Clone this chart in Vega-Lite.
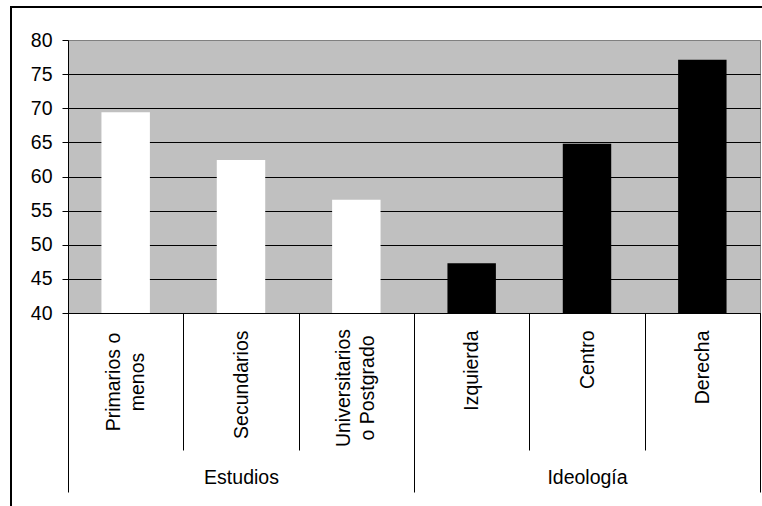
{
  "$schema": "https://vega.github.io/schema/vega-lite/v6.json",
  "width": 692,
  "height": 273,
  "autosize": {"type": "none"},
  "padding": {"left": 68, "top": 40, "right": 2, "bottom": 193},
  "background": "#ffffff",
  "config": {
    "view": {"fill": "#c0c0c0", "stroke": "#808080", "strokeWidth": 1},
    "font": "Liberation Sans",
    "axis": {
      "labelFont": "Liberation Sans",
      "labelFontSize": 19.5,
      "labelColor": "#000000",
      "domainColor": "#000000",
      "domainWidth": 1,
      "tickColor": "#000000",
      "tickWidth": 1
    }
  },
  "datasets": {
    "barras": [
      {"grupo": "Estudios", "categoria": "Primarios o menos", "valor": 69.4},
      {"grupo": "Estudios", "categoria": "Secundarios", "valor": 62.4},
      {"grupo": "Estudios", "categoria": "Universitarios o Postgrado", "valor": 56.6},
      {"grupo": "Ideología", "categoria": "Izquierda", "valor": 47.3},
      {"grupo": "Ideología", "categoria": "Centro", "valor": 64.8},
      {"grupo": "Ideología", "categoria": "Derecha", "valor": 77.1}
    ]
  },
  "layer": [
    {
      "data": {"values": [{}]},
      "mark": {"type": "rect", "filled": false, "stroke": "#000000", "strokeWidth": 2},
      "encoding": {
        "x": {"datum": 0, "type": "quantitative", "scale": {"domain": [0, 1], "range": [-57, 740], "nice": false, "zero": false}, "axis": null},
        "x2": {"datum": 1},
        "y": {"datum": 0, "type": "quantitative", "scale": {"domain": [0, 1], "range": [-33, 520], "nice": false, "zero": false}, "axis": null},
        "y2": {"datum": 1}
      }
    },
    {
      "data": {"name": "barras"},
      "mark": {"type": "bar", "width": {"band": 0.42}},
      "encoding": {
        "x": {
          "field": "categoria",
          "type": "nominal",
          "sort": null,
          "scale": {"type": "band", "paddingInner": 0, "paddingOuter": 0},
          "axis": {
            "orient": "bottom",
            "title": null,
            "tickBand": "extent",
            "tickSize": 137,
            "labelAngle": 270,
            "labelBaseline": "middle",
            "labelAlign": {
              "condition": {"test": "datum.value === 'Primarios o menos' || datum.value === 'Universitarios o Postgrado'", "value": "center"},
              "value": "right"
            },
            "labelPadding": {
              "condition": [
                {"test": "datum.value === 'Primarios o menos'", "value": -68.5},
                {"test": "datum.value === 'Universitarios o Postgrado'", "value": -62.5}
              ],
              "value": -120
            },
            "labelOffset": {
              "condition": {"test": "datum.value === 'Primarios o menos' || datum.value === 'Universitarios o Postgrado'", "value": -12.5},
              "value": 0
            },
            "labelExpr": "datum.value === 'Primarios o menos' ? ['Primarios o', 'menos'] : datum.value === 'Universitarios o Postgrado' ? ['Universitarios', 'o Postgrado'] : datum.value",
            "labelLineHeight": 24,
            "labelOverlap": false,
            "labelLimit": 0
          }
        },
        "y": {
          "field": "valor",
          "type": "quantitative",
          "scale": {"domain": [40, 80], "nice": false, "zero": false},
          "axis": {
            "orient": "left",
            "title": null,
            "values": [40, 45, 50, 55, 60, 65, 70, 75, 80],
            "tickSize": 6,
            "labelPadding": 10,
            "grid": true,
            "gridWidth": 1,
            "gridColor": {"condition": {"test": "datum.value === 80", "value": "#808080"}, "value": "#000000"}
          }
        },
        "y2": {"datum": 40},
        "color": {
          "field": "grupo",
          "type": "nominal",
          "scale": {"domain": ["Estudios", "Ideología"], "range": ["#ffffff", "#000000"]},
          "legend": null
        }
      }
    },
    {
      "data": {"name": "barras"},
      "mark": {"type": "rule", "strokeOpacity": 0},
      "encoding": {
        "x": {
          "field": "grupo",
          "type": "nominal",
          "sort": null,
          "scale": {"type": "band", "paddingInner": 0, "paddingOuter": 0},
          "axis": {
            "orient": "bottom",
            "title": null,
            "tickBand": "extent",
            "tickSize": 179,
            "domain": false,
            "labelAngle": 0,
            "labelAlign": "center",
            "labelBaseline": "top",
            "labelPadding": -23.4
          }
        }
      }
    }
  ],
  "resolve": {
    "scale": {"x": "independent", "y": "independent"},
    "axis": {"x": "independent", "y": "independent"}
  }
}
